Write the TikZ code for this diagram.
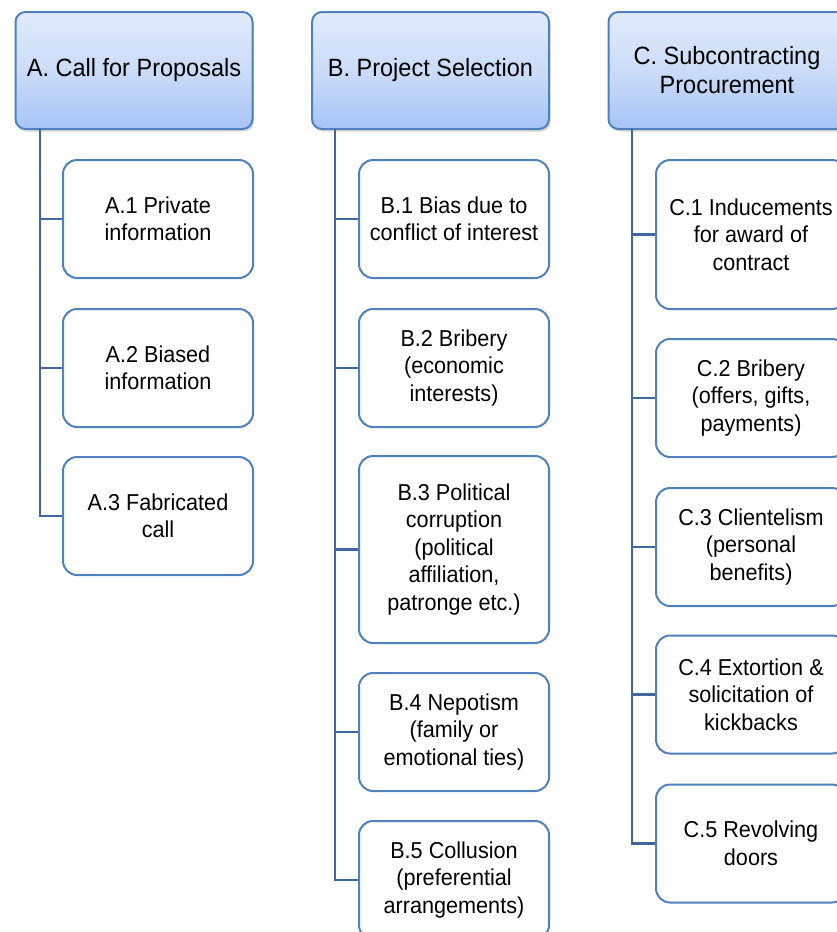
\documentclass[tikz,border=0pt]{standalone}
\usepackage{fontspec}
\setmainfont{Liberation Sans}[FakeStretch=0.94]
\usetikzlibrary{shadows}
\definecolor{bordblue}{HTML}{4F81BD}
\definecolor{lineblue}{HTML}{41679C}
\definecolor{hdrtop}{HTML}{E1EBFB}
\definecolor{hdrmid}{HTML}{CBDCF8}
\definecolor{hdrbot}{HTML}{A6C4F6}
\tikzset{
  hdr/.style={draw=bordblue, line width=2pt, rounded corners=10pt,
    top color=hdrtop, bottom color=hdrbot, middle color=hdrmid,
    drop shadow={opacity=0.3, shadow xshift=1.5pt, shadow yshift=-2.5pt},
    minimum width=237pt, minimum height=117pt, align=center,
    font=\fontsize{25}{29}\selectfont, inner sep=0pt},
  child/.style={draw=bordblue, line width=2pt, rounded corners=14pt, fill=white,
    minimum width=190pt, align=center, font=\fontsize{23}{27.5}\selectfont, inner sep=0pt},
  conn/.style={draw=lineblue, line width=2.4pt}
}
\begin{document}
\begin{tikzpicture}[x=1pt,y=-1pt]
\useasboundingbox (0,0) rectangle (837,932);
\clip (0,0) rectangle (837,932);
\fill[white] (0,0) rectangle (837,932);
% headers
\node[hdr] (A) at (134,70.5) {A. Call for Proposals};
\node[hdr] (B) at (430.5,70.5) {B. Project Selection};
\node[hdr] (C) at (727,70.5) {C. Subcontracting\\Procurement};
% trunk coordinates
\coordinate (tA) at (40,129);
\coordinate (tB) at (335,129);
\coordinate (tC) at (632,129);
% A children
\node[child, minimum height=118pt] (A1) at (158,219) {A.1 Private\\information};
\node[child, minimum height=118pt] (A2) at (158,368) {A.2 Biased\\information};
\node[child, minimum height=118pt] (A3) at (158,516) {A.3 Fabricated\\call};
% B children
\node[child, minimum height=118pt] (B1) at (454,219) {B.1 Bias due to\\conflict of interest};
\node[child, minimum height=118pt] (B2) at (454,368) {B.2 Bribery\\(economic\\interests)};
\node[child, minimum height=187pt] (B3) at (454,549.5) {B.3 Political\\corruption\\(political\\affiliation,\\patronge etc.)};
\node[child, minimum height=118pt] (B4) at (454,732) {B.4 Nepotism\\(family or\\emotional ties)};
\node[child, minimum height=118pt] (B5) at (454,880) {B.5 Collusion\\(preferential\\arrangements)};
% C children
\node[child, minimum height=149pt] (C1) at (751,234.5) {C.1 Inducements\\for award of\\contract};
\node[child, minimum height=118pt] (C2) at (751,398) {C.2 Bribery\\(offers, gifts,\\payments)};
\node[child, minimum height=118pt] (C3) at (751,547) {C.3 Clientelism\\(personal\\benefits)};
\node[child, minimum height=118pt] (C4) at (751,694.5) {C.4 Extortion \&\\solicitation of\\kickbacks};
\node[child, minimum height=118pt] (C5) at (751,843.5) {C.5 Revolving\\doors};
% connectors
\draw[conn] (tA) |- (A3.west);
\draw[conn] (tA |- A1.west) -- (A1.west);
\draw[conn] (tA |- A2.west) -- (A2.west);
\draw[conn] (tB) |- (B5.west);
\foreach \n in {B1,B2,B3,B4} \draw[conn] (tB |- \n.west) -- (\n.west);
\draw[conn] (tC) |- (C5.west);
\foreach \n in {C1,C2,C3,C4} \draw[conn] (tC |- \n.west) -- (\n.west);
\end{tikzpicture}
\end{document}
